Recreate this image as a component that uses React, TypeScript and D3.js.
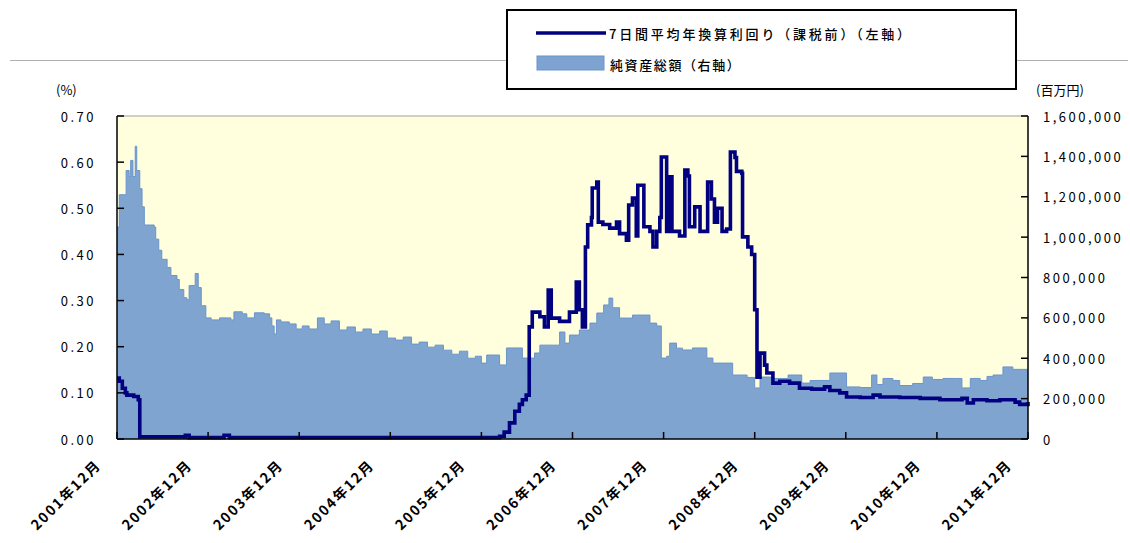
import React from "react";
import * as d3 from "d3";

// months since Dec 2001 for net asset readings
const MONTHS_A = [0,0.3,1.1,1.2,1.6,1.8,2.1,2.4,2.6,3.0,3.3,3.6,4.9,5.1,5.5,5.9,6.6,7.1,7.9,8.2,8.8,9.2,9.5,10.0,10.3,10.7,11.1,11.7,12.4,13.5,15.0,15.4,16.5,17.1,18.1,19.4,20.1,20.4,20.7,21.0,21.6,22.7,23.6,24.4,25.3,26.4,27.3,28.2,29.3,30.3,31.4,32.4,33.5,34.6,35.6,36.7,37.7,38.8,39.8,40.9,41.9,43.0,44.1,45.1,46.2,47.2,48.0,48.7,49.7,50.4,51.0,51.3,52.4,53.4,55.0,55.7,57.4,58.3,59.0,59.6,60.9,62.3,63.2,64.1,64.8,65.3,66.2,67.1,67.9,69.6,70.2,71.1,71.7,72.4,72.8,73.7,74.5,75.8,76.8,77.7,78.5,80.3,81.1,83.0,84.0,84.7,86.4,88.4,90.2,91.3,93.0,93.9,95.0,96.1,97.9,99.4,100.1,100.9,102.2,103.1,104.8,106.2,107.4,108.8,110.6,111.3,112.4,113.7,114.6,115.4,116.7,118.0,119.9,120];
// 純資産総額 (百万円)
const ASSETS = [1050000,1210000,1210000,1330000,1300000,1380000,1300000,1450000,1330000,1240000,1150000,1060000,1050000,990000,935000,890000,850000,810000,790000,740000,700000,690000,760000,760000,820000,750000,660000,600000,590000,600000,590000,630000,620000,600000,625000,620000,600000,560000,520000,590000,580000,570000,545000,560000,545000,600000,570000,585000,540000,555000,530000,545000,520000,535000,500000,490000,505000,470000,480000,455000,465000,440000,420000,435000,400000,410000,376000,416000,416000,367000,367000,451000,451000,401000,426000,465000,465000,530000,475000,515000,540000,574000,624000,664000,698000,650000,599000,599000,614000,614000,574000,560000,401000,410000,475000,450000,441000,451000,451000,401000,376000,376000,317000,305000,253000,307000,300000,317000,277000,290000,290000,327000,327000,258000,255000,317000,270000,300000,290000,265000,275000,307000,295000,300000,300000,253000,300000,290000,310000,317000,357000,345000,332000,332000];

// months since Dec 2001 for yield readings
const MONTHS_Y = [0,0.3,0.7,1.1,1.3,2.2,2.8,3.0,9.0,9.5,14.1,14.8,47.7,50.4,51.0,51.7,52.4,53.0,53.4,53.9,54.3,54.7,55.7,56.3,56.8,57.2,58.3,59.6,60.5,60.9,61.3,61.7,62.0,62.5,62.6,63.2,63.4,64.0,64.9,65.8,66.2,67.1,67.4,67.9,68.4,68.6,69.2,69.4,70.2,70.6,71.1,71.5,71.7,72.1,72.4,72.8,73.1,74.1,74.8,75.2,75.4,76.1,76.8,77.7,77.8,78.3,78.7,79.1,79.7,80.3,80.8,81.4,81.6,82.3,82.4,83.1,83.6,84.0,84.3,84.7,85.3,85.6,86.4,87.3,88.6,89.9,91.5,93.2,93.9,95.2,96.1,97.9,99.6,100.5,103.1,105.8,108.4,111.3,112.0,112.8,114.6,116.3,118.3,118.9,120];
// 7日間平均年換算利回り (%)
const YIELDS = [0.132,0.125,0.11,0.10,0.095,0.092,0.085,0.005,0.008,0.003,0.008,0.003,0.003,0.006,0.015,0.035,0.06,0.075,0.085,0.095,0.243,0.275,0.265,0.243,0.323,0.262,0.255,0.275,0.34,0.28,0.243,0.416,0.464,0.48,0.544,0.557,0.47,0.465,0.457,0.47,0.445,0.431,0.507,0.522,0.44,0.55,0.55,0.46,0.45,0.416,0.45,0.48,0.611,0.611,0.45,0.568,0.45,0.44,0.583,0.57,0.46,0.503,0.45,0.45,0.557,0.52,0.47,0.50,0.45,0.455,0.622,0.61,0.58,0.576,0.438,0.416,0.40,0.28,0.134,0.186,0.16,0.143,0.121,0.125,0.121,0.11,0.108,0.113,0.105,0.10,0.091,0.09,0.095,0.091,0.09,0.088,0.085,0.088,0.078,0.085,0.083,0.085,0.08,0.075,0.08];

const LEFT_TICKS = [0, 0.1, 0.2, 0.3, 0.4, 0.5, 0.6, 0.7];
const RIGHT_TICKS = [0, 200000, 400000, 600000, 800000, 1000000, 1200000, 1400000, 1600000];
const X_TICKS = [0, 12, 24, 36, 48, 60, 72, 84, 96, 108, 120];
const X_LABELS = ["2001年12月","2002年12月","2003年12月","2004年12月","2005年12月","2006年12月","2007年12月","2008年12月","2009年12月","2010年12月","2011年12月"];

const LEGEND_LINE = "7日間平均年換算利回り（課税前）（左軸）";
const LEGEND_AREA = "純資産総額（右軸）";

const FONT = "'Noto Sans CJK JP', 'Noto Sans', sans-serif";

export default function App() {
  const L = 117, R = 1028, T = 116, B = 439;
  const x = d3.scaleLinear().domain([0, 120]).range([L, R]);
  const yL = d3.scaleLinear().domain([0, 0.7]).range([B, T]);
  const yR = d3.scaleLinear().domain([0, 1600000]).range([B, T]);

  const areaData = MONTHS_A.map((m, i) => [m, ASSETS[i]] as [number, number]);
  const lineData = MONTHS_Y.map((m, i) => [m, YIELDS[i]] as [number, number]);

  const areaGen = d3.area<[number, number]>()
    .x(d => x(d[0])).y0(B).y1(d => yR(d[1])).curve(d3.curveStepAfter);
  const areaTop = d3.line<[number, number]>()
    .x(d => x(d[0])).y(d => yR(d[1])).curve(d3.curveStepAfter);
  const lineGen = d3.line<[number, number]>()
    .x(d => x(d[0])).y(d => yL(d[1])).curve(d3.curveStepAfter);

  const fmtL = d3.format(".2f");
  const fmtR = d3.format(",");

  return (
    <svg width={1130} height={543} style={{ position: "absolute", left: 0, top: 0, background: "#fff" }}
      fontFamily={FONT}>
      <line x1={10} x2={1128} y1={60.5} y2={60.5} stroke="#b0b0b0" strokeWidth={1} />

      {/* legend */}
      <rect x={507} y={10} width={509} height={79} fill="#fff" stroke="#000" strokeWidth={2} />
      <line x1={536} x2={606} y1={33} y2={33} stroke="#000080" strokeWidth={3.5} />
      <text x={609} y={33} dominantBaseline="central" fontSize={13} letterSpacing={2.8} fontWeight={500} fill="#000">{LEGEND_LINE}</text>
      <rect x={537} y={56} width={67} height={14} fill="#7fa3d1" stroke="#6b94cc" strokeWidth={1} />
      <text x={610} y={64} dominantBaseline="central" fontSize={13} letterSpacing={1.6} fontWeight={500} fill="#000">{LEGEND_AREA}</text>

      {/* plot background */}
      <rect x={L} y={T} width={R - L} height={B - T} fill="#ffffdd" />
      <path d={areaGen(areaData) || ""} fill="#80a4d0" />
      <path d={areaTop(areaData) || ""} fill="none" stroke="#6a94cd" strokeWidth={1} />
      <path d={lineGen(lineData) || ""} fill="none" stroke="#000080" strokeWidth={3.6} strokeLinejoin="miter" />

      {/* frame */}
      <line x1={L} x2={R} y1={T} y2={T} stroke="#a0a0a0" strokeWidth={1} />
      <line x1={L} x2={L} y1={T} y2={B} stroke="#000" strokeWidth={1.5} />
      <line x1={R} x2={R} y1={T} y2={B} stroke="#000" strokeWidth={1.5} />
      <line x1={L} x2={R} y1={B} y2={B} stroke="#000" strokeWidth={1.5} />

      {/* left axis */}
      {LEFT_TICKS.map(t => (
        <g key={"l" + t}>
          <line x1={L} x2={L + 7} y1={yL(t)} y2={yL(t)} stroke="#000" strokeWidth={1.5} />
          <text x={96} y={yL(t)} textAnchor="end" dominantBaseline="central" fontSize={13} letterSpacing={2.5} fill="#000">{fmtL(t)}</text>
        </g>
      ))}
      <text x={56} y={89} dominantBaseline="central" fontSize={13} fill="#000">(%)</text>

      {/* right axis */}
      {RIGHT_TICKS.map(t => (
        <g key={"r" + t}>
          <line x1={R - 7} x2={R} y1={yR(t)} y2={yR(t)} stroke="#000" strokeWidth={1.5} />
          <text x={1043} y={yR(t)} dominantBaseline="central" fontSize={13} letterSpacing={2.5} fill="#000">{fmtR(t)}</text>
        </g>
      ))}
      <text x={1036} y={89} dominantBaseline="central" fontSize={13} fill="#000">(百万円)</text>

      {/* x axis */}
      {X_TICKS.map((m, i) => (
        <g key={"x" + m}>
          <line x1={x(m)} x2={x(m)} y1={B} y2={B - 7} stroke="#000" strokeWidth={1.5} />
          <text transform={`translate(${x(m) - 15},${466}) rotate(-45)`} textAnchor="end" fontSize={14}
            letterSpacing={1.8} fontWeight={700} fill="#000">{X_LABELS[i]}</text>
        </g>
      ))}
    </svg>
  );
}
